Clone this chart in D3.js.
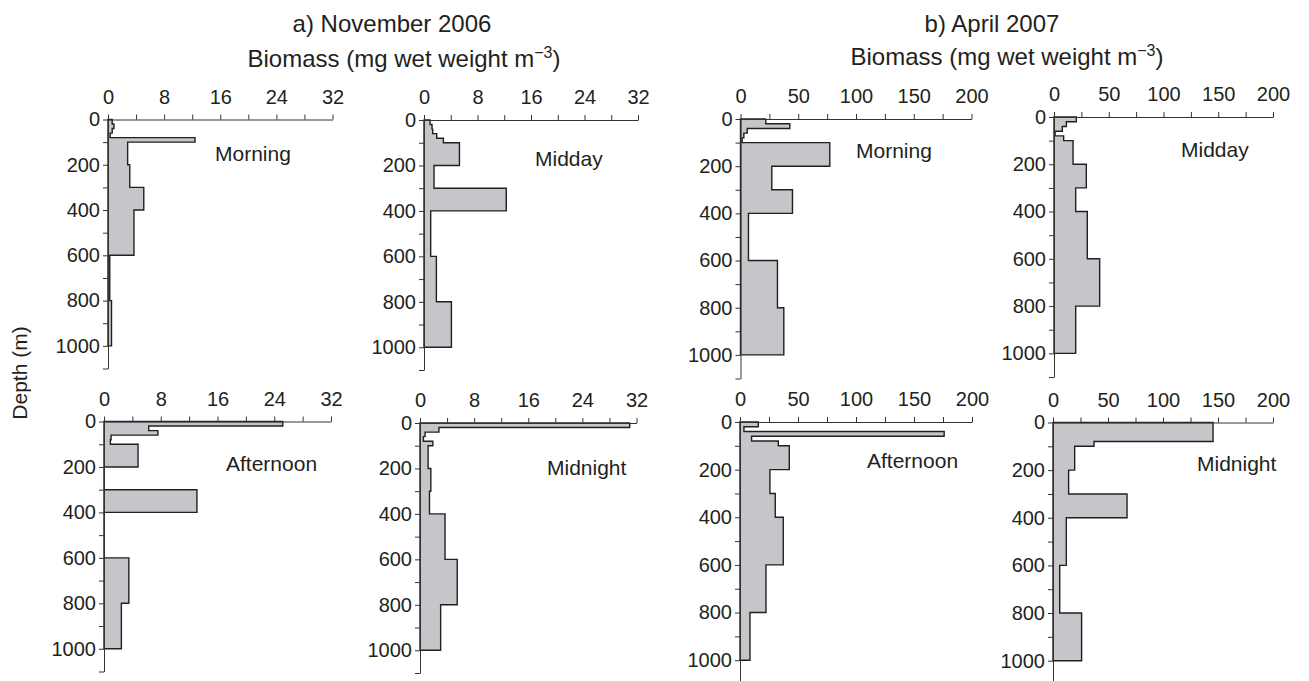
<!DOCTYPE html>
<html>
<head>
<meta charset="utf-8">
<script src="https://cdnjs.cloudflare.com/ajax/libs/d3/7.8.5/d3.min.js"></script>
<style>
  body { margin: 0; background: #fff; }
  svg { display: block; font-family: "Liberation Sans", Arial, Helvetica, sans-serif; }
  .axis path, .axis line { stroke: #333; stroke-width: 1px; }
  .axis text { fill: #231f20; font-size: 20px; }
</style>
</head>
<body>
<div id="chart"></div>
<script>
'use strict';

// Depth layer boundaries (m)
var depthEdges = [0, 20, 40, 60, 80, 100, 200, 300, 400, 600, 800, 1000]

// a) November 2006 - biomass per layer (mg wet weight m-3)
var novMorning   = [0.6, 0.85, 0.6, 0.3, 12.4, 2.8, 3.1, 5.1, 3.7, 0.25, 0.5]
var novMidday    = [0.9, 1.2, 1.3, 1.9, 2.9, 5.3, 1.5, 12.3, 1.0, 1.85, 4.1]
var novAfternoon = [25.2, 6.3, 7.6, 1.0, 0.9, 4.8, 0, 13.1, 0, 3.5, 2.45]
var novMidnight  = [31.0, 2.8, 0.75, 0.5, 1.9, 1.2, 1.6, 1.4, 3.7, 5.5, 3.05]

// b) April 2007
var aprMorning   = [21.9, 42.7, 5.8, 2.9, 1.4, 77.3, 27.1, 45.0, 6.9, 32.0, 37.5]
var aprMidday    = [20.4, 11.3, 7.6, 1.0, 8.8, 17.4, 29.5, 19.8, 30.4, 41.7, 19.8]
var aprAfternoon = [15.8, 3.4, 176, 10, 33, 42.5, 25.8, 30.4, 37.3, 22.4, 8.6]
var aprMidnight  = [145.5, 145.5, 145.5, 145.5, 37.3, 19.7, 14.2, 67.3, 12.1, 6.1, 26]

// Ticks
var novTicks = [0, 8, 16, 24, 32]
var novMinor = [4, 12, 20, 28]
var aprTicks = [0, 50, 100, 150, 200]
var aprMinor = [25, 75, 125, 175]
var depthTicks = [0, 200, 400, 600, 800, 1000]
var depthMinor = [100, 300, 500, 700, 900, 1100]

// Panel layout (x, y = origin; w = x range; h = depth range for 0-1100 m)
var panels = [
  {values: novMorning,   label: "Morning",   ticks: novTicks, minor: novMinor, x: 108, y: 119.5, w: 224.5, h: 249, lx: 215,  ly: 161},
  {values: novMidday,    label: "Midday",    ticks: novTicks, minor: novMinor, x: 424, y: 120,   w: 214,   h: 250, lx: 535,  ly: 166},
  {values: novAfternoon, label: "Afternoon", ticks: novTicks, minor: novMinor, x: 104, y: 421.5, w: 227,   h: 250, lx: 226,  ly: 471},
  {values: novMidnight,  label: "Midnight",  ticks: novTicks, minor: novMinor, x: 420, y: 423,   w: 216.5, h: 250, lx: 547,  ly: 475},
  {values: aprMorning,   label: "Morning",   ticks: aprTicks, minor: aprMinor, x: 740.5, y: 119, w: 231,   h: 259.5, lx: 856,  ly: 158},
  {values: aprMidday,    label: "Midday",    ticks: aprTicks, minor: aprMinor, x: 1054, y: 117,  w: 219,   h: 260, lx: 1181, ly: 157},
  {values: aprAfternoon, label: "Afternoon", ticks: aprTicks, minor: aprMinor, x: 740,  y: 422,  w: 232,   h: 262, lx: 867,  ly: 468},
  {values: aprMidnight,  label: "Midnight",  ticks: aprTicks, minor: aprMinor, x: 1053, y: 422.5, w: 220,  h: 262, lx: 1197, ly: 471}
]

var svg = d3.select("#chart").append("svg")
  .attr("width", 1309)
  .attr("height", 681)

panels.forEach(function(p){
  var x = d3.scaleLinear()
    .domain([0, p.ticks[p.ticks.length - 1]])
    .range([0, p.w])
  var y = d3.scaleLinear()
    .domain([0, 1100])
    .range([0, p.h])

  var g = svg.append("g")
    .attr("transform", "translate(" + p.x + "," + p.y + ")")

  // Step profile: outline follows each layer, closed back along the zero line
  var pts = [{depth: 0, value: 0}]
  p.values.forEach(function(v, i){
    pts.push({depth: depthEdges[i], value: v})
    pts.push({depth: depthEdges[i + 1], value: v})
  })
  pts.push({depth: depthEdges[depthEdges.length - 1], value: 0})

  var line = d3.line()
    .x(function(d) { return x(d.value) })
    .y(function(d) { return y(d.depth) })

  g.append("path")
    .attr("d", line(pts) + "Z")
    .style("fill", "#c5c6ca")
    .style("stroke", "#231f20")
    .style("stroke-width", "1.4px")
    .style("stroke-linejoin", "miter")

  g.append("g")
    .attr("class", "axis")
    .call(d3.axisTop(x)
      .tickValues(p.ticks.concat(p.minor))
      .tickSize(5)
      .tickSizeOuter(0)
      .tickPadding(11)
      .tickFormat(function(d){ return p.ticks.indexOf(d) >= 0 ? d : "" }))

  g.append("g")
    .attr("class", "axis")
    .call(d3.axisLeft(y)
      .tickValues(depthTicks.concat(depthMinor))
      .tickSize(5)
      .tickSizeOuter(0)
      .tickPadding(3)
      .tickFormat(function(d){ return depthTicks.indexOf(d) >= 0 ? d : "" }))

  g.selectAll(".axis .domain").attr("fill", "none")

  svg.append("text")
    .attr("x", p.lx)
    .attr("y", p.ly)
    .style("font-size", "21px")
    .style("fill", "#231f20")
    .text(p.label)
})

// Titles
var titles = [
  {title: "a) November 2006", cx: 392, bx: 404, by: 67},
  {title: "b) April 2007", cx: 992, bx: 1007, by: 65}
]

titles.forEach(function(t){
  svg.append("text")
    .attr("x", t.cx)
    .attr("y", 32)
    .attr("text-anchor", "middle")
    .style("font-size", "24px")
    .style("fill", "#231f20")
    .text(t.title)

  var bt = svg.append("text")
    .attr("x", t.bx)
    .attr("y", t.by)
    .attr("text-anchor", "middle")
    .style("font-size", "24px")
    .style("fill", "#231f20")
  bt.append("tspan").text("Biomass (mg wet weight m")
  bt.append("tspan").attr("dy", -9).style("font-size", "16px").text("\u22123")
  bt.append("tspan").attr("dy", 9).text(")")
})

svg.append("text")
  .attr("transform", "translate(27,373) rotate(-90)")
  .attr("text-anchor", "middle")
  .style("font-size", "21px")
  .style("fill", "#231f20")
  .text("Depth (m)")
</script>
</body>
</html>
